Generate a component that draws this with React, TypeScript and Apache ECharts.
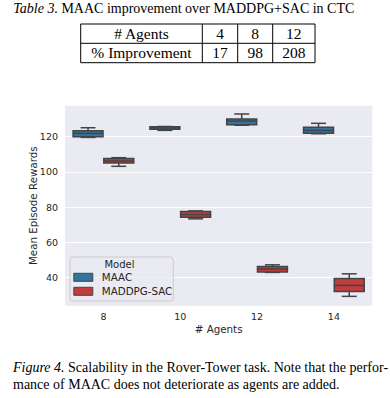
import React, { useEffect, useRef } from "react";
import * as echarts from "echarts";

const agents = ["8", "10", "12", "14"];
// [low whisker, Q1, median, Q3, high whisker]
const maacStats = [
  [119.6, 120.0, 121.9, 123.4, 125.1],
  [123.6, 124.2, 125.0, 125.7, 125.8],
  [126.5, 126.8, 128.9, 130.0, 132.9],
  [121.7, 121.9, 123.6, 125.3, 127.6],
];
const maddpgStats = [
  [103.2, 105.1, 106.2, 107.7, 108.1],
  [73.4, 74.3, 75.8, 77.5, 77.9],
  [43.0, 43.2, 44.9, 46.3, 47.3],
  [29.4, 32.2, 35.6, 39.6, 42.2],
];
const seriesNames = ["MAAC", "MADDPG-SAC"];
const tableHeader = ["# Agents", "4", "8", "12"];
const tableRow = ["% Improvement", "17", "98", "208"];

const BLUE = "#3274a1";
const RED = "#c03d3e";
const EDGE = "#444444";
const SANS = "DejaVu Sans";
const SERIF = "Liberation Serif";

function makeRender(offset: number, fill: string) {
  return (params: any, api: any) => {
    const idx = api.value(0);
    const band = api.size([1, 0])[0];
    const cx = api.coord([idx, 0])[0] + offset * band;
    const w = band * 0.39;
    const cap = w / 2;
    const y = (v: number) => api.coord([idx, v])[1];
    const lo = y(api.value(1));
    const q1 = y(api.value(2));
    const md = y(api.value(3));
    const q3 = y(api.value(4));
    const hi = y(api.value(5));
    const ls = { stroke: EDGE, lineWidth: 1.5 };
    return {
      type: "group",
      children: [
        { type: "line", shape: { x1: cx, y1: q1, x2: cx, y2: lo }, style: ls },
        { type: "line", shape: { x1: cx, y1: q3, x2: cx, y2: hi }, style: ls },
        { type: "line", shape: { x1: cx - cap / 2, y1: lo, x2: cx + cap / 2, y2: lo }, style: ls },
        { type: "line", shape: { x1: cx - cap / 2, y1: hi, x2: cx + cap / 2, y2: hi }, style: ls },
        {
          type: "rect",
          shape: { x: cx - w / 2, y: q3, width: w, height: q1 - q3 },
          style: { fill, stroke: EDGE, lineWidth: 1.5 },
        },
        { type: "line", shape: { x1: cx - w / 2, y1: md, x2: cx + w / 2, y2: md }, style: ls },
      ],
    };
  };
}

export default function App() {
  const ref = useRef<HTMLDivElement>(null);
  useEffect(() => {
    document.body.style.margin = "0";
    const chart = echarts.init(ref.current!, null, { renderer: "svg" });

    // table geometry
    const tx = [80.7, 202.3, 237.7, 272.7, 315];
    const ty = [24, 43.3, 62.7];
    const tableGraphics: any[] = [];
    tableGraphics.push({
      type: "rect",
      shape: { x: tx[0], y: ty[0], width: tx[4] - tx[0], height: ty[2] - ty[0] },
      style: { fill: "none", stroke: "#000", lineWidth: 1 },
    });
    tableGraphics.push({
      type: "line",
      shape: { x1: tx[0], y1: ty[1], x2: tx[4], y2: ty[1] },
      style: { stroke: "#000", lineWidth: 1 },
    });
    [1, 2, 3].forEach((i) =>
      tableGraphics.push({
        type: "line",
        shape: { x1: tx[i], y1: ty[0], x2: tx[i], y2: ty[2] },
        style: { stroke: "#000", lineWidth: 1 },
      })
    );
    [tableHeader, tableRow].forEach((row, r) =>
      row.forEach((t, c) =>
        tableGraphics.push({
          type: "text",
          x: (tx[c] + tx[c + 1]) / 2,
          y: r === 0 ? 33.3 : 52.3,
          style: {
            text: t,
            fontFamily: SERIF,
            fontSize: 15.5,
            fill: "#000",
            textAlign: "center",
            textVerticalAlign: "middle",
          },
        })
      )
    );

    chart.setOption({
      animation: false,
      backgroundColor: "#ffffff",
      grid: {
        left: 65,
        right: 17.7,
        top: 105.7,
        bottom: 92.3,
        show: true,
        backgroundColor: "#eaeaf2",
        borderWidth: 0,
      },
      xAxis: {
        type: "category",
        data: agents,
        name: "# Agents",
        nameLocation: "middle",
        nameGap: 18,
        nameMoveOverlap: false,
        nameTextStyle: { fontFamily: SANS, fontSize: 10.3, color: "#262626" },
        axisLine: { show: false },
        axisTick: { show: false },
        axisLabel: { fontFamily: SANS, fontSize: 9.5, color: "#262626", margin: 6 },
        splitLine: { show: false },
      },
      yAxis: {
        type: "value",
        min: 24.1,
        max: 137.6,
        splitNumber: 5,
        name: "Mean Episode Rewards",
        nameLocation: "middle",
        nameGap: 27,
        nameMoveOverlap: false,
        nameTextStyle: { fontFamily: SANS, fontSize: 10.3, color: "#262626" },
        axisLine: { show: false },
        axisTick: { show: false },
        axisLabel: {
          fontFamily: SANS,
          fontSize: 9.5,
          color: "#262626",
          margin: 7,
          showMinLabel: false,
          showMaxLabel: false,
        },
        splitLine: {
          show: true,
          showMinLine: false,
          showMaxLine: false,
          lineStyle: { color: "#ffffff", width: 1 },
        },
      },
      legend: {
        orient: "vertical",
        left: 70,
        top: 257,
        padding: [14.3, 1, 3.7, 3.3],
        itemGap: 2,
        itemWidth: 19,
        itemHeight: 8,
        backgroundColor: "rgba(234,234,242,0.8)",
        borderColor: "#cccccc",
        borderWidth: 1,
        borderRadius: 3,
        textStyle: {
          fontFamily: SANS,
          fontSize: 10.3,
          color: "#262626",
          lineHeight: 12,
          padding: [0, 0, 0, 4],
        },
        data: [
          { name: seriesNames[0], icon: "rect", itemStyle: { color: BLUE, borderColor: EDGE, borderWidth: 1 } },
          { name: seriesNames[1], icon: "rect", itemStyle: { color: RED, borderColor: EDGE, borderWidth: 1 } },
        ],
      },
      graphic: [
        {
          type: "text",
          x: 13.3,
          y: 8,
          style: {
            text: "{i|Table 3.} MAAC improvement over MADDPG+SAC in CTC",
            fontFamily: SERIF,
            fontSize: 14,
            fill: "#000",
            textVerticalAlign: "middle",
            rich: { i: { fontStyle: "italic", fontFamily: SERIF, fontSize: 14 } },
          },
        },
        ...tableGraphics,
        {
          type: "text",
          x: 119.5,
          y: 264,
          z: 100,
          style: {
            text: "Model",
            fontFamily: SANS,
            fontSize: 10,
            fill: "#262626",
            textAlign: "center",
            textVerticalAlign: "middle",
          },
        },
        {
          type: "text",
          x: 13,
          y: 367.3,
          style: {
            text: "{i|Figure 4.} Scalability in the Rover-Tower task. Note that the perfor-",
            fontFamily: SERIF,
            fontSize: 14,
            fill: "#000",
            textVerticalAlign: "middle",
            rich: { i: { fontStyle: "italic", fontFamily: SERIF, fontSize: 14 } },
          },
        },
        {
          type: "text",
          x: 13,
          y: 384.3,
          style: {
            text: "mance of MAAC does not deteriorate as agents are added.",
            fontFamily: SERIF,
            fontSize: 14,
            fill: "#000",
            textVerticalAlign: "middle",
          },
        },
      ],
      series: [
        {
          name: seriesNames[0],
          type: "custom",
          itemStyle: { color: BLUE },
          renderItem: makeRender(-0.2, BLUE),
          encode: { x: 0, y: [1, 2, 3, 4, 5] },
          data: maacStats.map((s, i) => [i, ...s]),
        },
        {
          name: seriesNames[1],
          type: "custom",
          itemStyle: { color: RED },
          renderItem: makeRender(0.2, RED),
          encode: { x: 0, y: [1, 2, 3, 4, 5] },
          data: maddpgStats.map((s, i) => [i, ...s]),
        },
      ],
    });
    return () => chart.dispose();
  }, []);
  return <div ref={ref} style={{ width: 390, height: 398 }} />;
}
